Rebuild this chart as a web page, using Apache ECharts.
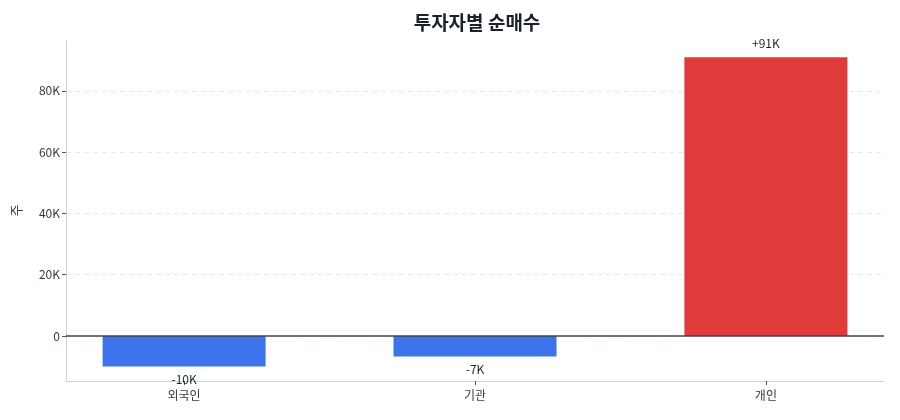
<!DOCTYPE html>
<html><head><meta charset="utf-8">
<script src="https://cdn.jsdelivr.net/npm/echarts@6/dist/echarts.min.js"></script>
<style>html,body{margin:0;padding:0;background:#fff}#c{width:900px;height:420px}</style>
</head><body><div id="c"></div>
<script>
const categories = ['외국인', '기관', '개인'];
const values = [-10000, -6700, 91000];
const valueLabels = ['-10K', '-7K', '+91K'];
const colors = ['#3b74ed', '#3b74ed', '#e03a3a'];
const yTicks = [0, 20000, 40000, 60000, 80000];

const font = '"Noto Sans CJK KR", "Noto Sans", sans-serif';
const chart = echarts.init(document.getElementById('c'));
chart.setOption({
  textStyle: { fontFamily: font },
  title: {
    text: '투자자별 순매수', left: 472, top: 8, textAlign: 'center',
    textStyle: { fontFamily: font, fontSize: 19, fontWeight: 'bold', color: '#1a202c' }
  },
  grid: { left: 66, right: 16, top: 40, bottom: 39 },
  xAxis: {
    type: 'value', min: -0.406, max: 2.406,
    axisLine: { show: true, onZero: false, lineStyle: { color: '#cdd3de' } },
    axisTick: { show: true, customValues: [0, 1, 2], lineStyle: { color: '#4a5263' }, length: 4 },
    axisLabel: { customValues: [0, 1, 2], formatter: v => categories[Math.round(v)], color: '#333a47', fontSize: 12, margin: 8, fontFamily: font },
    splitLine: { show: false }
  },
  yAxis: {
    type: 'value', min: -14700, max: 96600,
    name: '주', nameLocation: 'middle', nameGap: 43, nameRotate: 90,
    nameTextStyle: { color: '#333a47', fontSize: 13, fontFamily: font },
    axisLine: { show: true, onZero: false, lineStyle: { color: '#cdd3de' } },
    axisTick: { show: true, customValues: yTicks, lineStyle: { color: '#4a5263' }, length: 4 },
    axisLabel: {
      customValues: yTicks, color: '#333a47', fontSize: 12, fontFamily: font, margin: 6,
      formatter: v => v === 0 ? '0' : (v / 1000) + 'K'
    },
    splitLine: { showMinLine: true, showMaxLine: true, lineStyle: { color: '#e6e9ef', type: [5, 4] } }
  },
  series: [{
    type: 'bar', barWidth: 163,
    data: values.map((v, i) => ({
      value: [i, v], itemStyle: { color: colors[i] },
      label: { show: true, position: v < 0 ? 'bottom' : 'top', formatter: valueLabels[i],
        distance: v < 0 ? 7 : 8, color: '#1e2433', fontSize: 12, fontFamily: font }
    })),
    markLine: {
      symbol: 'none', silent: true, label: { show: false },
      lineStyle: { color: '#3d4556', type: 'solid', width: 1.5 },
      data: [{ yAxis: 0 }]
    }
  }]
});
</script></body></html>
